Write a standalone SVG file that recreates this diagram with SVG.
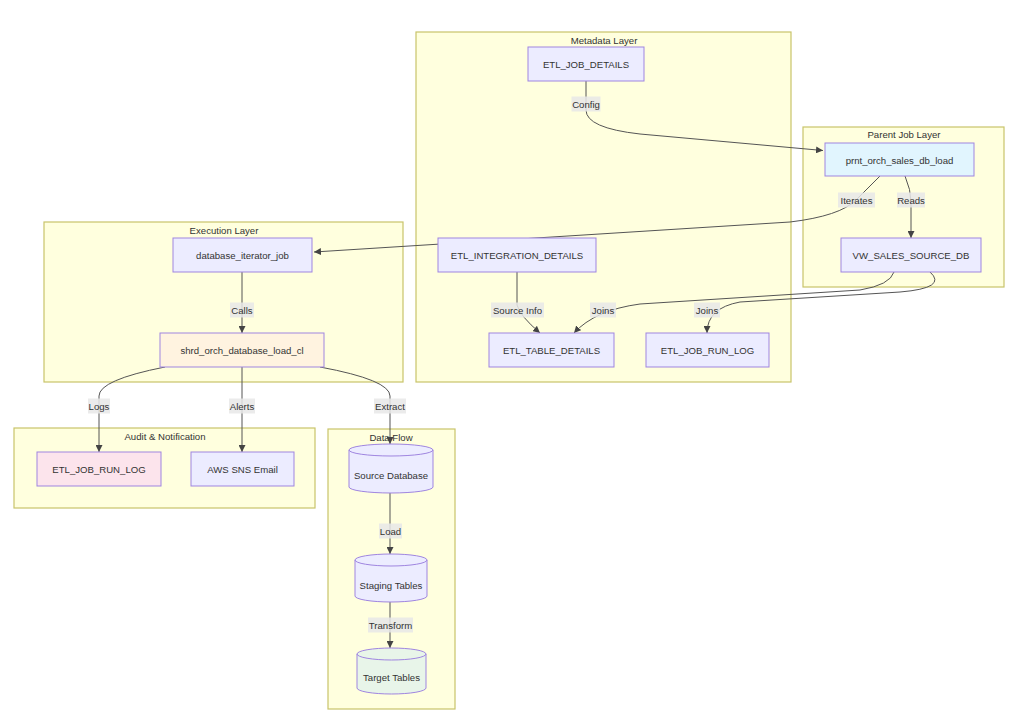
<svg xmlns="http://www.w3.org/2000/svg" width="1020" height="726" viewBox="0 0 1020 726">
<style>
.bg{fill:#ffffff}
.cluster{fill:#ffffde;stroke:#c9c46a;stroke-width:1.2}
.ctitle{font-family:"Liberation Sans",Arial,sans-serif;font-size:9.6px;fill:#333;text-anchor:middle;dominant-baseline:central}
.node{fill:#ECECFF;stroke:#9f85e0;stroke-width:1}
.t{font-family:"Liberation Sans",Arial,sans-serif;font-size:9.6px;fill:#333;text-anchor:middle;dominant-baseline:central}
.edge{fill:none;stroke:#555;stroke-width:1}
.lbl{fill:#e8e8e8;opacity:0.85}
</style>
<defs>
<marker id="arr" viewBox="0 0 10 10" refX="10" refY="5" markerWidth="7" markerHeight="7" orient="auto" markerUnits="userSpaceOnUse">
<path d="M0,0 L10,5 L0,10 z" fill="#444"/>
</marker>
</defs>
<rect class="bg" x="0" y="0" width="1020" height="726"/>

<g id="clusters">
<g id="cluster-metadata"><rect class="cluster" x="416" y="32" width="375" height="350"/><text class="ctitle" x="604" y="40">Metadata Layer</text></g>
<g id="cluster-parent"><rect class="cluster" x="803" y="127" width="201" height="160"/><text class="ctitle" x="904" y="134">Parent Job Layer</text></g>
<g id="cluster-execution"><rect class="cluster" x="44" y="222" width="359" height="160"/><text class="ctitle" x="224" y="230">Execution Layer</text></g>
<g id="cluster-audit"><rect class="cluster" x="14" y="428" width="301" height="80"/><text class="ctitle" x="165" y="436">Audit &amp; Notification</text></g>
<g id="cluster-dataflow"><rect class="cluster" x="328" y="429" width="127" height="280"/><text class="ctitle" x="391" y="437">Data Flow</text></g>
</g>

<g id="connectors">
<path class="edge" d="M586,81 L586,110 Q586,128 640,134 L823,150.5" marker-end="url(#arr)"/>
<path class="edge" d="M880,176 Q866,190 856,200 Q840,216 790,222 L314,252" marker-end="url(#arr)"/>
<path class="edge" d="M905,176 Q911,190 911,202 L911,238" marker-end="url(#arr)"/>
<path class="edge" d="M517,272 L517,305 Q520,316 540,333" marker-end="url(#arr)"/>
<path class="edge" d="M894,272 Q890,285 860,290 L640,304 Q595,310 574,333" marker-end="url(#arr)"/>
<path class="edge" d="M930,272 Q948,288 900,292 L740,302 Q707,308 707,333" marker-end="url(#arr)"/>
<path class="edge" d="M242,272 L242,333" marker-end="url(#arr)"/>
<path class="edge" d="M165,367 Q99,380 99,396 L99,452" marker-end="url(#arr)"/>
<path class="edge" d="M242,367 L242,452" marker-end="url(#arr)"/>
<path class="edge" d="M320,367 Q390,380 390,396 L390,444" marker-end="url(#arr)"/>
<path class="edge" d="M390,493 L390,554" marker-end="url(#arr)"/>
<path class="edge" d="M390,602 L390,648" marker-end="url(#arr)"/>
</g>

<g id="edge-labels">
<g><rect class="lbl" x="571.5" y="96.5" width="29" height="15"/><text class="t" x="586" y="104">Config</text></g>
<g><rect class="lbl" x="838" y="192.5" width="37" height="15"/><text class="t" x="856.5" y="200">Iterates</text></g>
<g><rect class="lbl" x="897" y="192.5" width="28" height="15"/><text class="t" x="911" y="200">Reads</text></g>
<g><rect class="lbl" x="491" y="302.5" width="53" height="15"/><text class="t" x="517.5" y="310">Source Info</text></g>
<g><rect class="lbl" x="590" y="302.5" width="26" height="15"/><text class="t" x="603" y="310">Joins</text></g>
<g><rect class="lbl" x="694" y="302.5" width="26" height="15"/><text class="t" x="707" y="310">Joins</text></g>
<g><rect class="lbl" x="230" y="302.5" width="24" height="15"/><text class="t" x="242" y="310">Calls</text></g>
<g><rect class="lbl" x="88" y="398.5" width="22" height="15"/><text class="t" x="99" y="406">Logs</text></g>
<g><rect class="lbl" x="229" y="398.5" width="26" height="15"/><text class="t" x="242" y="406">Alerts</text></g>
<g><rect class="lbl" x="374" y="398.5" width="32" height="15"/><text class="t" x="390" y="406">Extract</text></g>
<g><rect class="lbl" x="379" y="523.5" width="23" height="15"/><text class="t" x="390.5" y="531">Load</text></g>
<g><rect class="lbl" x="368" y="617.5" width="45" height="15"/><text class="t" x="390.5" y="625">Transform</text></g>
</g>

<g id="node-etl-job-details"><rect class="node" x="528" y="47" width="116" height="34"/><text class="t" x="586" y="64">ETL_JOB_DETAILS</text></g>
<g id="node-prnt"><rect class="node" x="825" y="143" width="149" height="33" style="fill:#e1f5fe"/><text class="t" x="899.5" y="160">prnt_orch_sales_db_load</text></g>
<g id="node-vw-sales"><rect class="node" x="841" y="238" width="140" height="34"/><text class="t" x="911" y="255">VW_SALES_SOURCE_DB</text></g>
<g id="node-etl-integration"><rect class="node" x="438" y="238" width="158" height="34"/><text class="t" x="517" y="255">ETL_INTEGRATION_DETAILS</text></g>
<g id="node-etl-table"><rect class="node" x="489" y="333" width="125" height="34"/><text class="t" x="551.5" y="350">ETL_TABLE_DETAILS</text></g>
<g id="node-etl-run-log-meta"><rect class="node" x="646" y="333" width="123" height="34"/><text class="t" x="707.5" y="350">ETL_JOB_RUN_LOG</text></g>
<g id="node-db-iterator"><rect class="node" x="173" y="238" width="139" height="34"/><text class="t" x="242.5" y="255">database_iterator_job</text></g>
<g id="node-shrd"><rect class="node" x="160" y="333" width="164" height="34" style="fill:#fff3e0"/><text class="t" x="242" y="350">shrd_orch_database_load_cl</text></g>
<g id="node-etl-run-log-audit"><rect class="node" x="37" y="452" width="124" height="34" style="fill:#fce4ec"/><text class="t" x="99" y="469">ETL_JOB_RUN_LOG</text></g>
<g id="node-aws-sns"><rect class="node" x="191" y="452" width="103" height="34"/><text class="t" x="242.5" y="469">AWS SNS Email</text></g>
<g id="node-source-db"><path class="node" d="M349,450 a42,6 0 0,0 84,0 a42,6 0 0,0 -84,0 l0,37 a42,6 0 0,0 84,0 l0,-37"/><text class="t" x="391" y="475">Source Database</text></g>
<g id="node-staging"><path class="node" d="M355,560 a36,6 0 0,0 72,0 a36,6 0 0,0 -72,0 l0,36 a36,6 0 0,0 72,0 l0,-36"/><text class="t" x="391" y="585">Staging Tables</text></g>
<g id="node-target"><path class="node" d="M357,654 a34.5,6 0 0,0 69,0 a34.5,6 0 0,0 -69,0 l0,34 a34.5,6 0 0,0 69,0 l0,-34" style="fill:#e8f5e9"/><text class="t" x="391.5" y="677">Target Tables</text></g>
</svg>
